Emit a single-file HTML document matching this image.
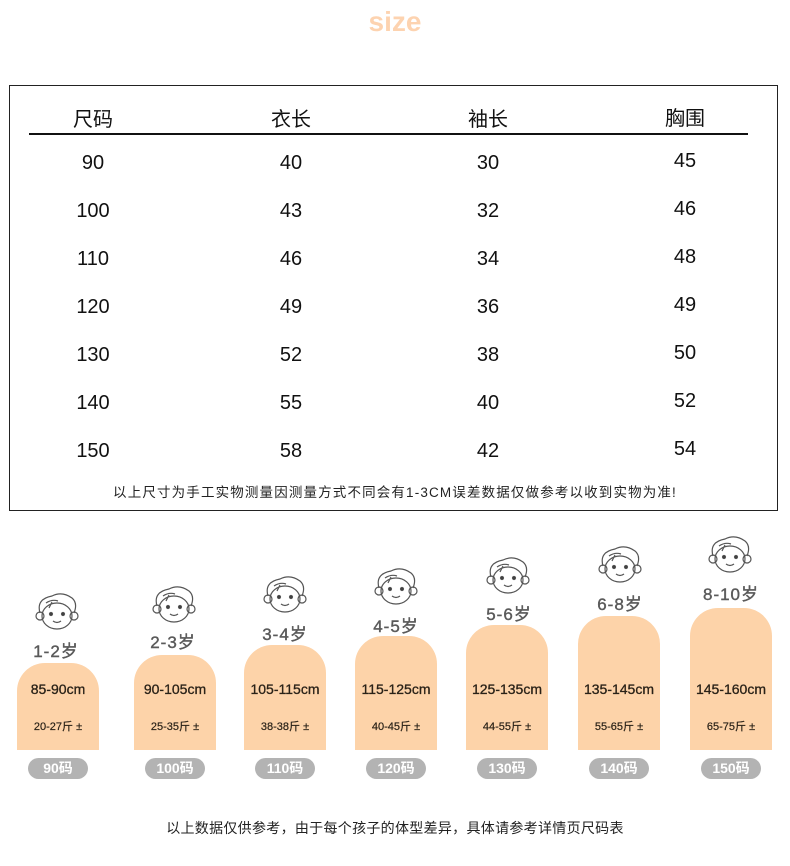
<!DOCTYPE html>
<html><head><meta charset="utf-8"><style>
*{margin:0;padding:0;box-sizing:border-box}
body{width:790px;height:866px;background:#fff;position:relative;overflow:hidden;font-family:"Liberation Sans","Noto Sans CJK SC",sans-serif}
.a{position:absolute;white-space:nowrap}
.t{font-size:20px;color:#111;transform:translateX(-50%)}
.card{position:absolute;width:82px;background:#fdd3a9;border-radius:28px 28px 0 0;bottom:116px}
.cm{position:absolute;width:120px;text-align:center;font-size:14px;color:#2a2218;transform:translateX(-50%);top:681px;-webkit-text-stroke:0.3px #2a2218}
.kg{position:absolute;width:120px;text-align:center;font-size:11px;color:#2a2218;transform:translateX(-50%);top:718px;-webkit-text-stroke:0.2px #2a2218}
.pill{position:absolute;width:60px;height:21px;top:758px;border-radius:11px;background:#b3b3b3;color:#fff;font-weight:bold;font-size:14px;text-align:center;line-height:21px;transform:translateX(-50%)}
.age{position:absolute;font-size:17px;color:#5a5a5a;transform:translateX(-50%);-webkit-text-stroke:0.4px #5a5a5a;letter-spacing:1px}
.face{position:absolute;transform:translateX(-50%)}
</style></head><body>
<div class="a" style="left:0;width:790px;text-align:center;top:6px;font-size:28px;font-weight:bold;color:#fdd3b0">size</div>
<div class="a" style="left:9px;top:85px;width:769px;height:426px;border:1.5px solid #222"></div>
<div class="a" style="left:29px;top:133px;width:719px;height:1.5px;background:#111"></div>
<div class="a t" style="left:93px;top:103px">尺码</div>
<div class="a t" style="left:291px;top:103px">衣长</div>
<div class="a t" style="left:488px;top:103px">袖长</div>
<div class="a t" style="left:685px;top:102px">胸围</div>

<div class="a t" style="left:93px;top:152px">90</div><div class="a t" style="left:291px;top:152px">40</div><div class="a t" style="left:488px;top:152px">30</div><div class="a t" style="left:685px;top:150px">45</div>
<div class="a t" style="left:93px;top:200px">100</div><div class="a t" style="left:291px;top:200px">43</div><div class="a t" style="left:488px;top:200px">32</div><div class="a t" style="left:685px;top:198px">46</div>
<div class="a t" style="left:93px;top:248px">110</div><div class="a t" style="left:291px;top:248px">46</div><div class="a t" style="left:488px;top:248px">34</div><div class="a t" style="left:685px;top:246px">48</div>
<div class="a t" style="left:93px;top:296px">120</div><div class="a t" style="left:291px;top:296px">49</div><div class="a t" style="left:488px;top:296px">36</div><div class="a t" style="left:685px;top:294px">49</div>
<div class="a t" style="left:93px;top:344px">130</div><div class="a t" style="left:291px;top:344px">52</div><div class="a t" style="left:488px;top:344px">38</div><div class="a t" style="left:685px;top:342px">50</div>
<div class="a t" style="left:93px;top:392px">140</div><div class="a t" style="left:291px;top:392px">55</div><div class="a t" style="left:488px;top:392px">40</div><div class="a t" style="left:685px;top:390px">52</div>
<div class="a t" style="left:93px;top:440px">150</div><div class="a t" style="left:291px;top:440px">58</div><div class="a t" style="left:488px;top:440px">42</div><div class="a t" style="left:685px;top:438px">54</div>
<div class="a" style="left:0;width:790px;text-align:center;top:481px;font-size:13.5px;color:#222;letter-spacing:1.15px">以上尺寸为手工实物测量因测量方式不同会有1-3CM误差数据仅做参考以收到实物为准!</div>

<svg width="0" height="0" style="position:absolute"><defs><g id="f" fill="none" stroke="#555" stroke-width="1.2"><path d="M8 22 Q4 8 20 5 Q30 0 40 7 Q46 12 42 22"/><path d="M14 12 Q20 8 26 10 M20 11 L17 17"/><ellipse cx="25" cy="25" rx="15" ry="13"/><circle cx="8" cy="25" r="4"/><circle cx="42" cy="25" r="4"/><circle cx="19" cy="23" r="1.5" fill="#333"/><circle cx="31" cy="23" r="1.5" fill="#333"/><path d="M21 30 Q25 33 29 30"/></g></defs></svg>

<div class="card" style="left:17px;top:663px"></div>
<div class="card" style="left:134px;top:655px"></div>
<div class="card" style="left:244px;top:645px"></div>
<div class="card" style="left:355px;top:636px"></div>
<div class="card" style="left:466px;top:625px"></div>
<div class="card" style="left:578px;top:616px"></div>
<div class="card" style="left:690px;top:608px"></div>

<svg class="face" style="left:57px;top:591px" width="50" height="42"><use href="#f"/></svg>
<svg class="face" style="left:174px;top:584px" width="50" height="42"><use href="#f"/></svg>
<svg class="face" style="left:285px;top:574px" width="50" height="42"><use href="#f"/></svg>
<svg class="face" style="left:396px;top:566px" width="50" height="42"><use href="#f"/></svg>
<svg class="face" style="left:508px;top:555px" width="50" height="42"><use href="#f"/></svg>
<svg class="face" style="left:620px;top:544px" width="50" height="42"><use href="#f"/></svg>
<svg class="face" style="left:730px;top:534px" width="50" height="42"><use href="#f"/></svg>

<div class="age" style="left:56px;top:637px">1-2岁</div>
<div class="age" style="left:173px;top:628px">2-3岁</div>
<div class="age" style="left:285px;top:620px">3-4岁</div>
<div class="age" style="left:396px;top:612px">4-5岁</div>
<div class="age" style="left:509px;top:600px">5-6岁</div>
<div class="age" style="left:620px;top:590px">6-8岁</div>
<div class="age" style="left:731px;top:580px">8-10岁</div>

<div class="cm" style="left:58px">85-90cm</div><div class="kg" style="left:58px">20-27斤 ±</div><div class="pill" style="left:58px">90码</div>
<div class="cm" style="left:175px">90-105cm</div><div class="kg" style="left:175px">25-35斤 ±</div><div class="pill" style="left:175px">100码</div>
<div class="cm" style="left:285px">105-115cm</div><div class="kg" style="left:285px">38-38斤 ±</div><div class="pill" style="left:285px">110码</div>
<div class="cm" style="left:396px">115-125cm</div><div class="kg" style="left:396px">40-45斤 ±</div><div class="pill" style="left:396px">120码</div>
<div class="cm" style="left:507px">125-135cm</div><div class="kg" style="left:507px">44-55斤 ±</div><div class="pill" style="left:507px">130码</div>
<div class="cm" style="left:619px">135-145cm</div><div class="kg" style="left:619px">55-65斤 ±</div><div class="pill" style="left:619px">140码</div>
<div class="cm" style="left:731px">145-160cm</div><div class="kg" style="left:731px">65-75斤 ±</div><div class="pill" style="left:731px">150码</div>

<div class="a" style="left:0;width:790px;text-align:center;top:818px;font-size:14px;color:#222;letter-spacing:0.3px">以上数据仅供参考，由于每个孩子的体型差异，具体请参考详情页尺码表</div>
</body></html>
